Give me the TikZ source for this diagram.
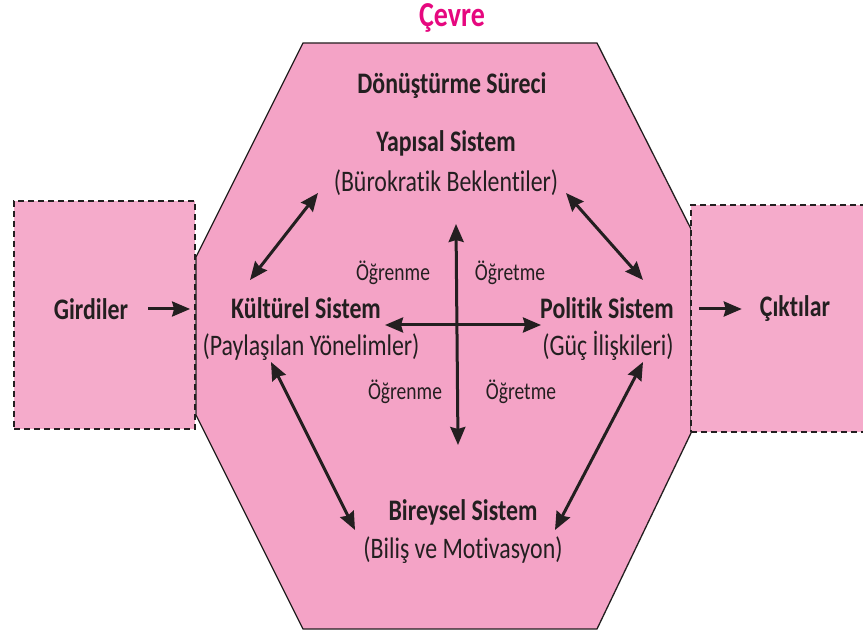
\documentclass[tikz,border=0pt]{standalone}
\usepackage{fontspec}
\setmainfont{Carlito}[FakeStretch=0.8,Ligatures=NoCommon]
\usetikzlibrary{arrows.meta,positioning}
\definecolor{hexpink}{HTML}{F4A3C6}
\definecolor{boxpink}{HTML}{F5ABCB}
\definecolor{cevremag}{HTML}{E6087F}
\definecolor{ink}{HTML}{231F20}

\begin{document}
\begin{tikzpicture}[x=1pt,y=-1pt,
    every node/.style={text=ink,inner sep=0pt},
    baslik/.style={font=\fontsize{29.8}{34}\selectfont\bfseries},
    altyazi/.style={font=\fontsize{29.8}{34}\selectfont},
    etiket/.style={font=\fontsize{24.4}{28}\selectfont},
    kutu/.style={draw=ink,fill=boxpink,line width=2.2pt,dash pattern=on 6pt off 4pt},
    ok/.style={draw=ink,line width=3pt,-{Stealth[length=18pt,width=15pt,inset=2pt]}},
    ciftok/.style={draw=ink,line width=3pt,{Stealth[length=18pt,width=15pt,inset=2pt]}-{Stealth[length=18pt,width=15pt,inset=2pt]}}]
  \useasboundingbox (0,0) rectangle (863,636);

  % donusum alani
  \draw[fill=hexpink,draw=ink,line width=1.3pt] (303,43) -- (597,43) -- (691,229) -- (691,433)
    -- (597,629) -- (303,629) -- (196,415) -- (196,257) -- cycle;

  % girdi ve cikti kutulari
  \node[kutu,minimum width=181pt,minimum height=228pt] (girdikutu) at (104.5,315) {};
  \node[kutu,minimum width=189pt,minimum height=227pt] (ciktikutu) at (785.5,318.5) {};

  \node[font=\fontsize{35}{38}\selectfont\bfseries,text=cevremag] (cevre) at (452,18) {Çevre};
  \node[baslik] (donusum) at (452,86) {Dönüştürme Süreci};

  \node[baslik] (yapisal) at (446,143) {Yapısal Sistem};
  \node[altyazi] (yapsub) at (446,183) {(Bürokratik Beklentiler)};
  \node[baslik] (kultur) at (306,308) {Kültürel Sistem};
  \node[altyazi] (kultsub) at (311,347) {(Paylaşılan Yönelimler)};
  \node[baslik] (politik) at (607,308) {Politik Sistem};
  \node[altyazi] (polsub) at (608,346) {(Güç İlişkileri)};
  \node[baslik] (bireysel) at (463,512) {Bireysel Sistem};
  \node[altyazi] (birsub) at (463,550) {(Biliş ve Motivasyon)};

  \node[baslik] (girdi) at (91,309) {Girdiler};
  \node[baslik] (cikti) at (795,309) {Çıktılar};

  \node[etiket] (ogr1) at (393,273) {Öğrenme};
  \node[etiket] (ogt1) at (510,273) {Öğretme};
  \node[etiket] (ogr2) at (405,392) {Öğrenme};
  \node[etiket] (ogt2) at (521,392) {Öğretme};

  \coordinate (kesisim) at (457,325);

  % oklar
  \draw[ok,shorten <=20pt,shorten >=6pt] (girdi.east) -- (girdi.east -| girdikutu.east);
  \draw[ok,shorten <=9pt,shorten >=18pt] (cikti.west -| ciktikutu.west) -- (cikti.west);

  \draw[ciftok] ([shift={(-128pt,-10pt)}]yapsub.center) -- ([shift={(-56pt,28pt)}]kultur.center);
  \draw[ciftok] ([shift={(120pt,-10pt)}]yapsub.center) -- ([shift={(36pt,28pt)}]politik.center);
  \draw[ciftok] ([shift={(-40pt,-15pt)}]kultsub.center) -- ([shift={(-108pt,20pt)}]birsub.center);
  \draw[ciftok] ([shift={(35pt,-16pt)}]polsub.center) -- ([shift={(92pt,20pt)}]birsub.center);

  \draw[ciftok] ([xshift=4pt]kultur.east |- kesisim) -- ([xshift=1pt]politik.west |- kesisim);
  \draw[ciftok] ([shift={(-1pt,101pt)}]kesisim) -- ([shift={(1pt,-120pt)}]kesisim);
\end{tikzpicture}
\end{document}
